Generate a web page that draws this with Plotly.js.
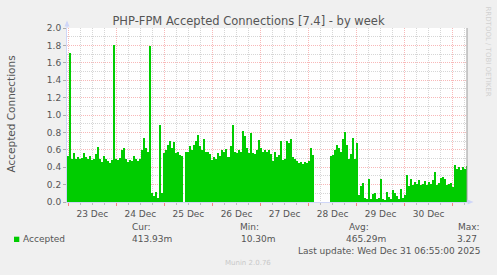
<!DOCTYPE html>
<html><head><meta charset="utf-8">
<script src="https://cdn.plot.ly/plotly-3.0.1.min.js"></script>
<style>html,body{margin:0;padding:0;background:#F0F0F0;}#chart{width:497px;height:275px;}</style>
</head><body><div id="chart"></div>
<script>
// ---- data (hourly averages) ----
const seriesName = 'Accepted';
const startTime = '2025-12-22T23:00:00Z';   // first sample
const stepMs = 3600000;                      // one hour per sample
const dec22 = [0.52];
const dec23 = [0.53,1.71,0.50,0.56,0.50,0.52,0.49,0.51,0.56,0.52,0.49,0.53,0.48,0.50,0.55,0.63,0.50,0.46,0.53,0.49,0.47,0.45,0.48,1.80];
const dec24 = [0.50,0.48,0.51,0.60,0.62,0.50,0.46,0.48,0.47,0.53,0.50,0.47,0.49,0.60,0.73,0.62,0.58,1.79,0.10,0.07,0.12,0.05,0.89,0.10];
const dec25 = [0.56,0.60,0.66,0.70,0.62,0.69,0.56,0.58,0.54,0.53,null,0.57,0.58,0.64,0.60,0.66,0.70,0.77,0.64,0.60,0.72,0.58,0.57,0.55];
const dec26 = [0.48,0.52,0.50,0.56,0.53,0.60,0.57,0.61,0.52,0.64,0.88,0.58,0.56,0.60,0.57,0.82,0.76,0.62,0.56,0.79,0.56,0.55,0.60,0.71];
const dec27 = [0.62,0.58,0.60,0.58,0.60,0.55,0.47,0.57,0.52,0.54,0.70,0.48,0.50,0.70,0.68,0.72,0.52,0.50,0.47,0.45,0.46,0.44,0.46,0.45];
const dec28 = [0.47,0.62,0.54,null,null,null,null,null,null,null,null,0.53,0.54,0.60,0.66,0.62,0.58,0.72,0.80,0.65,0.50,0.55,0.74,0.50];
const dec29 = [0.68,0.08,0.18,0.22,0.05,0.04,0.26,0.04,0.09,0.10,0.03,0.05,0.26,0.03,0.02,0.12,0.06,0.03,0.14,0.10,0.07,0.03,0.15,0.05];
const dec30 = [0.08,0.31,0.18,0.26,0.20,0.23,0.21,0.25,0.20,0.21,0.24,0.20,0.23,0.21,0.25,0.34,0.20,0.22,0.28,0.29,0.26,0.19,0.21,0.22];
const dec31 = [0.17,0.42,0.38,0.40,0.37,0.40,0.38,0.41];

const statLabels = ['Cur:','Min:','Avg:','Max:'];
const statValues = ['413.93m','10.30m','465.29m','3.27'];
const chartTitle = 'PHP-FPM Accepted Connections [7.4] - by week';
const yTitle = 'Accepted Connections';
const lastUpdate = 'Last update: Wed Dec 31 06:55:00 2025';
const credit = 'Munin 2.0.76';
const sideText = 'RRDTOOL / TOBI OETIKER';
const xRange = ['2025-12-22 23:20', '2025-12-31 07:08'];
const yRange = [0, 2];

const values = [].concat(dec22,dec23,dec24,dec25,dec26,dec27,dec28,dec29,dec30,dec31);
const t0 = Date.parse(startTime);
const times = values.map((_, i) => new Date(t0 + i*stepMs).toISOString().replace('T',' ').slice(0,19));

// ---- layout helpers (pixel -> paper) ----
const L = 67, T = 28, W = 400, H = 174;
const px = x => (x - L) / W;
const py = y => (T + H - y) / H;
const FONT = 'DejaVu Sans';
const fc = '#555555';

const ann = (text, x, y, xa, extra) => Object.assign({
  text, x: px(x), y: py(y), xref: 'paper', yref: 'paper', showarrow: false,
  xanchor: xa, yanchor: 'middle', font: {family: FONT, size: 9, color: fc}
}, extra || {});

const annotations = [
  ann(yTitle, 10, 114.5, 'center', {textangle: -90, font: {family: FONT, size: 10.5, color: fc}}),
  ann(seriesName, 20.7, 239, 'left'),
  ann(statLabels[0], 130, 227, 'left'),
  ann(statValues[0], 130, 239, 'left'),
  ann(statLabels[1], 238, 227, 'left'),
  ann(statValues[1], 278.3, 239, 'right'),
  ann(statLabels[2], 346.7, 227, 'left'),
  ann(statValues[2], 344.3, 239, 'left'),
  ann(statLabels[3], 455.7, 227, 'left'),
  ann(statValues[3], 479.3, 239, 'right'),
  ann(lastUpdate, 482.3, 250.5, 'right'),
  ann(credit, 248, 263, 'center', {font: {family: FONT, size: 7, color: '#c8c8c8'}}),
  ann(sideText, 487.5, 51, 'center', {textangle: 90, font: {family: FONT, size: 7, color: '#d0d0d0'}})
];

const arrowCol = '#CFD6F8';
const path = pts => 'M' + pts.map(p => px(p[0]) + ',' + py(p[1])).join(' L') + ' Z';
const shapes = [
  {type: 'rect', xref: 'paper', yref: 'paper', x0: px(14), x1: px(19.3), y0: py(242), y1: py(236.7),
   fillcolor: '#00CC00', line: {width: 0}},
  {type: 'line', xref: 'paper', yref: 'paper', x0: 1, x1: 1, y0: 0, y1: 1, line: {color: '#999999', width: 1}},
  {type: 'line', xref: 'paper', yref: 'paper', x0: px(67), x1: px(67), y0: py(28), y1: py(22), line: {color: arrowCol, width: 1}},
  {type: 'path', xref: 'paper', yref: 'paper', path: path([[64.5,26.5],[69.5,26.5],[67,20.5]]), fillcolor: arrowCol, line: {width: 0}},
  {type: 'line', xref: 'paper', yref: 'paper', x0: 1, x1: px(469), y0: 0, y1: 0, line: {color: arrowCol, width: 1}},
  {type: 'path', xref: 'paper', yref: 'paper', path: path([[467.5,199.5],[467.5,204.5],[473.5,202]]), fillcolor: arrowCol, line: {width: 0}}
];

const trace = {
  type: 'bar', x: times, y: values, width: stepMs, name: seriesName,
  marker: {color: '#00CC00', line: {width: 0}}, hoverinfo: 'skip'
};

const redGrid = 'rgba(230,0,0,0.28)';
const grayGrid = 'rgba(128,128,128,0.32)';
const layout = {
  width: 497, height: 275,
  margin: {l: L, r: 497 - L - W, t: T, b: 275 - T - H, pad: 0},
  paper_bgcolor: '#F0F0F0', plot_bgcolor: '#FFFFFF',
  showlegend: false, bargap: 0,
  title: {text: chartTitle, font: {family: FONT, size: 11.5, color: fc},
          x: 0.5, xref: 'container', xanchor: 'center', y: 1 - 20.5/275, yref: 'container', yanchor: 'middle'},
  xaxis: {
    type: 'date', range: xRange, tick0: '2025-12-23 00:00', dtick: 86400000,
    ticklabelmode: 'period', tickformat: '%d %b',
    tickfont: {family: FONT, size: 9, color: fc},
    ticks: 'outside', ticklen: 3, tickcolor: 'rgba(255,0,0,0.45)',
    showgrid: true, gridcolor: redGrid, griddash: '1px,1px', gridwidth: 1,
    minor: {dtick: 6*3600000, tick0: '2025-12-23 00:00', showgrid: true, gridcolor: grayGrid,
            griddash: '1px,1px', gridwidth: 1, ticks: 'outside', ticklen: 2, tickcolor: 'rgba(128,128,128,0.45)'},
    showline: true, linecolor: arrowCol, linewidth: 1, zeroline: false, fixedrange: true
  },
  yaxis: {
    range: yRange, tick0: 0, dtick: 0.2, tickformat: '.1f',
    tickfont: {family: FONT, size: 9, color: fc},
    ticks: 'outside', ticklen: 3, tickcolor: 'rgba(128,128,128,0.6)',
    showgrid: true, gridcolor: redGrid, griddash: '1px,1px', gridwidth: 1,
    minor: {dtick: 0.1, showgrid: true, gridcolor: grayGrid, griddash: '1px,1px', gridwidth: 1},
    showline: true, linecolor: arrowCol, linewidth: 1, zeroline: false, fixedrange: true
  },
  annotations, shapes
};

Plotly.newPlot('chart', [trace], layout, {staticPlot: true, displayModeBar: false});
</script></body></html>
